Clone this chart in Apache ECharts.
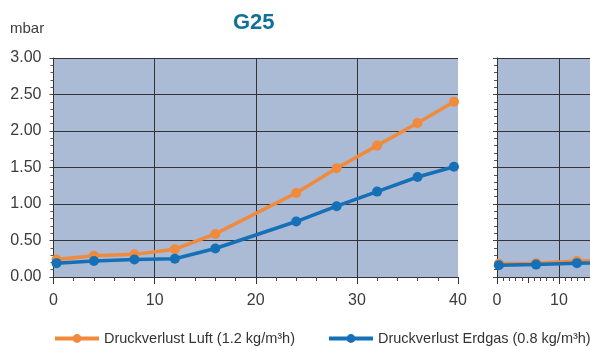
<!DOCTYPE html>
<html>
<head>
<meta charset="utf-8">
<script src="https://cdn.jsdelivr.net/npm/echarts@6/dist/echarts.min.js"></script>
<style>html,body{margin:0;padding:0;background:#fff;}#c{width:590px;height:346px;}</style>
</head>
<body>
<div id="c"></div>
<script>
// Main chart (0–40)
var xMain = [0.3, 4, 8, 12, 16, 24, 28, 32, 36, 39.6];
var luftMain = [0.24, 0.29, 0.31, 0.38, 0.59, 1.15, 1.49, 1.80, 2.11, 2.40];
var erdgasMain = [0.19, 0.22, 0.24, 0.25, 0.39, 0.76, 0.97, 1.17, 1.37, 1.51];
// Second (cut-off) chart
var xSide = [0.3, 6.3, 12.9, 19.5];
var luftSide = [0.18, 0.19, 0.22, 0.23];
var erdgasSide = [0.16, 0.17, 0.19, 0.20];
var seriesNames = ['Druckverlust Luft (1.2 kg/m³h)', 'Druckverlust Erdgas (0.8 kg/m³h)'];
var titleText = 'G25';
var unitText = 'mbar';

function pairs(xs, ys) { return xs.map(function (x, i) { return [x, ys[i]]; }); }

var FONT = 'Liberation Sans, Arial, sans-serif';
var ORANGE = '#f08a3c';
var BLUE = '#1570b8';
var GRIDC = '#333333';
var BG = '#abbbd5';

var chart = echarts.init(document.getElementById('c'), null, { renderer: 'canvas' });

function yAxisCfg(grid, showLabels) {
  return {
    type: 'value', gridIndex: grid, min: 0, max: 3, interval: 0.5,
    axisLine: { show: true, lineStyle: { color: GRIDC, width: 1 } },
    axisTick: { show: true, length: 4, lineStyle: { color: '#444' } },
    minorTick: { show: true, splitNumber: 5, length: 3, lineStyle: { color: '#555' } },
    axisLabel: {
      show: showLabels, margin: 12, color: '#3c3c3c', fontSize: 16, fontFamily: FONT,
      formatter: function (v) { return v.toFixed(2); }
    },
    splitLine: { show: true, lineStyle: { color: GRIDC, width: 1 } }
  };
}

var option = {
  animation: false,
  backgroundColor: '#ffffff',
  textStyle: { fontFamily: FONT },
  graphic: [{
    type: 'text', left: 10, top: 21,
    style: { text: unitText, fill: '#3c3c3c', fontSize: 15, fontFamily: FONT }
  }, {
    type: 'text', left: 233, top: 12,
    style: { text: titleText, fill: '#10709a', fontSize: 22, fontWeight: 'bold', fontFamily: FONT }
  }],
  legend: {
    data: seriesNames, left: 53, top: 331, width: 700, padding: 0,
    itemWidth: 44, itemHeight: 11, itemGap: 32,
    lineStyle: { width: 4 },
    textStyle: { color: '#333', fontSize: 14.5, fontFamily: FONT }
  },
  grid: [
    { left: 53.5, top: 58, width: 404.5, height: 219, show: true, backgroundColor: BG, borderWidth: 0, outerBoundsMode: 'none', containLabel: false },
    { left: 497, top: 58, width: 186, height: 219, show: true, backgroundColor: BG, borderWidth: 0, outerBoundsMode: 'none', containLabel: false }
  ],
  xAxis: [
    {
      type: 'value', gridIndex: 0, position: 'bottom', min: 0, max: 40, interval: 10,
      axisLine: { show: true, lineStyle: { color: GRIDC, width: 1 } },
      axisTick: { show: true, length: 7, lineStyle: { color: '#333' } },
      minorTick: { show: true, splitNumber: 5, length: 4, lineStyle: { color: '#444' } },
      axisLabel: { margin: 16, color: '#3c3c3c', fontSize: 16, fontFamily: FONT },
      splitLine: { show: true, showMaxLine: false, lineStyle: { color: GRIDC, width: 1 } }
    },
    {
      type: 'value', gridIndex: 1, position: 'bottom', min: 0, max: 30, interval: 10,
      axisLine: { show: true, lineStyle: { color: GRIDC, width: 1 } },
      axisTick: { show: true, length: 7, lineStyle: { color: '#333' } },
      minorTick: { show: true, splitNumber: 10, length: 4, lineStyle: { color: '#444' } },
      axisLabel: { margin: 16, color: '#3c3c3c', fontSize: 16, fontFamily: FONT },
      splitLine: { show: true, lineStyle: { color: GRIDC, width: 1 } }
    },
    {
      type: 'value', gridIndex: 1, position: 'bottom', offset: 0, min: 0, max: 30, interval: 5,
      axisLine: { show: false },
      axisTick: { show: true, length: 6, lineStyle: { color: '#333' } },
      axisLabel: { show: false },
      splitLine: { show: false }
    }
  ],
  yAxis: [yAxisCfg(0, true), yAxisCfg(1, false)],
  series: [
    {
      name: seriesNames[0], type: 'line', xAxisIndex: 0, yAxisIndex: 0,
      data: pairs(xMain, luftMain), symbol: 'circle', symbolSize: 10,
      lineStyle: { color: ORANGE, width: 3.5 }, itemStyle: { color: ORANGE }, z: 3
    },
    {
      name: seriesNames[1], type: 'line', xAxisIndex: 0, yAxisIndex: 0,
      data: pairs(xMain, erdgasMain), symbol: 'circle', symbolSize: 10,
      lineStyle: { color: BLUE, width: 3.5 }, itemStyle: { color: BLUE }, z: 4
    },
    {
      name: seriesNames[0], type: 'line', xAxisIndex: 1, yAxisIndex: 1,
      data: pairs(xSide, luftSide), symbol: 'circle', symbolSize: 10,
      lineStyle: { color: ORANGE, width: 3.5 }, itemStyle: { color: ORANGE }, z: 3
    },
    {
      name: seriesNames[1], type: 'line', xAxisIndex: 1, yAxisIndex: 1,
      data: pairs(xSide, erdgasSide), symbol: 'circle', symbolSize: 10,
      lineStyle: { color: BLUE, width: 3.5 }, itemStyle: { color: BLUE }, z: 4
    }
  ]
};
chart.setOption(option);
</script>
</body>
</html>
